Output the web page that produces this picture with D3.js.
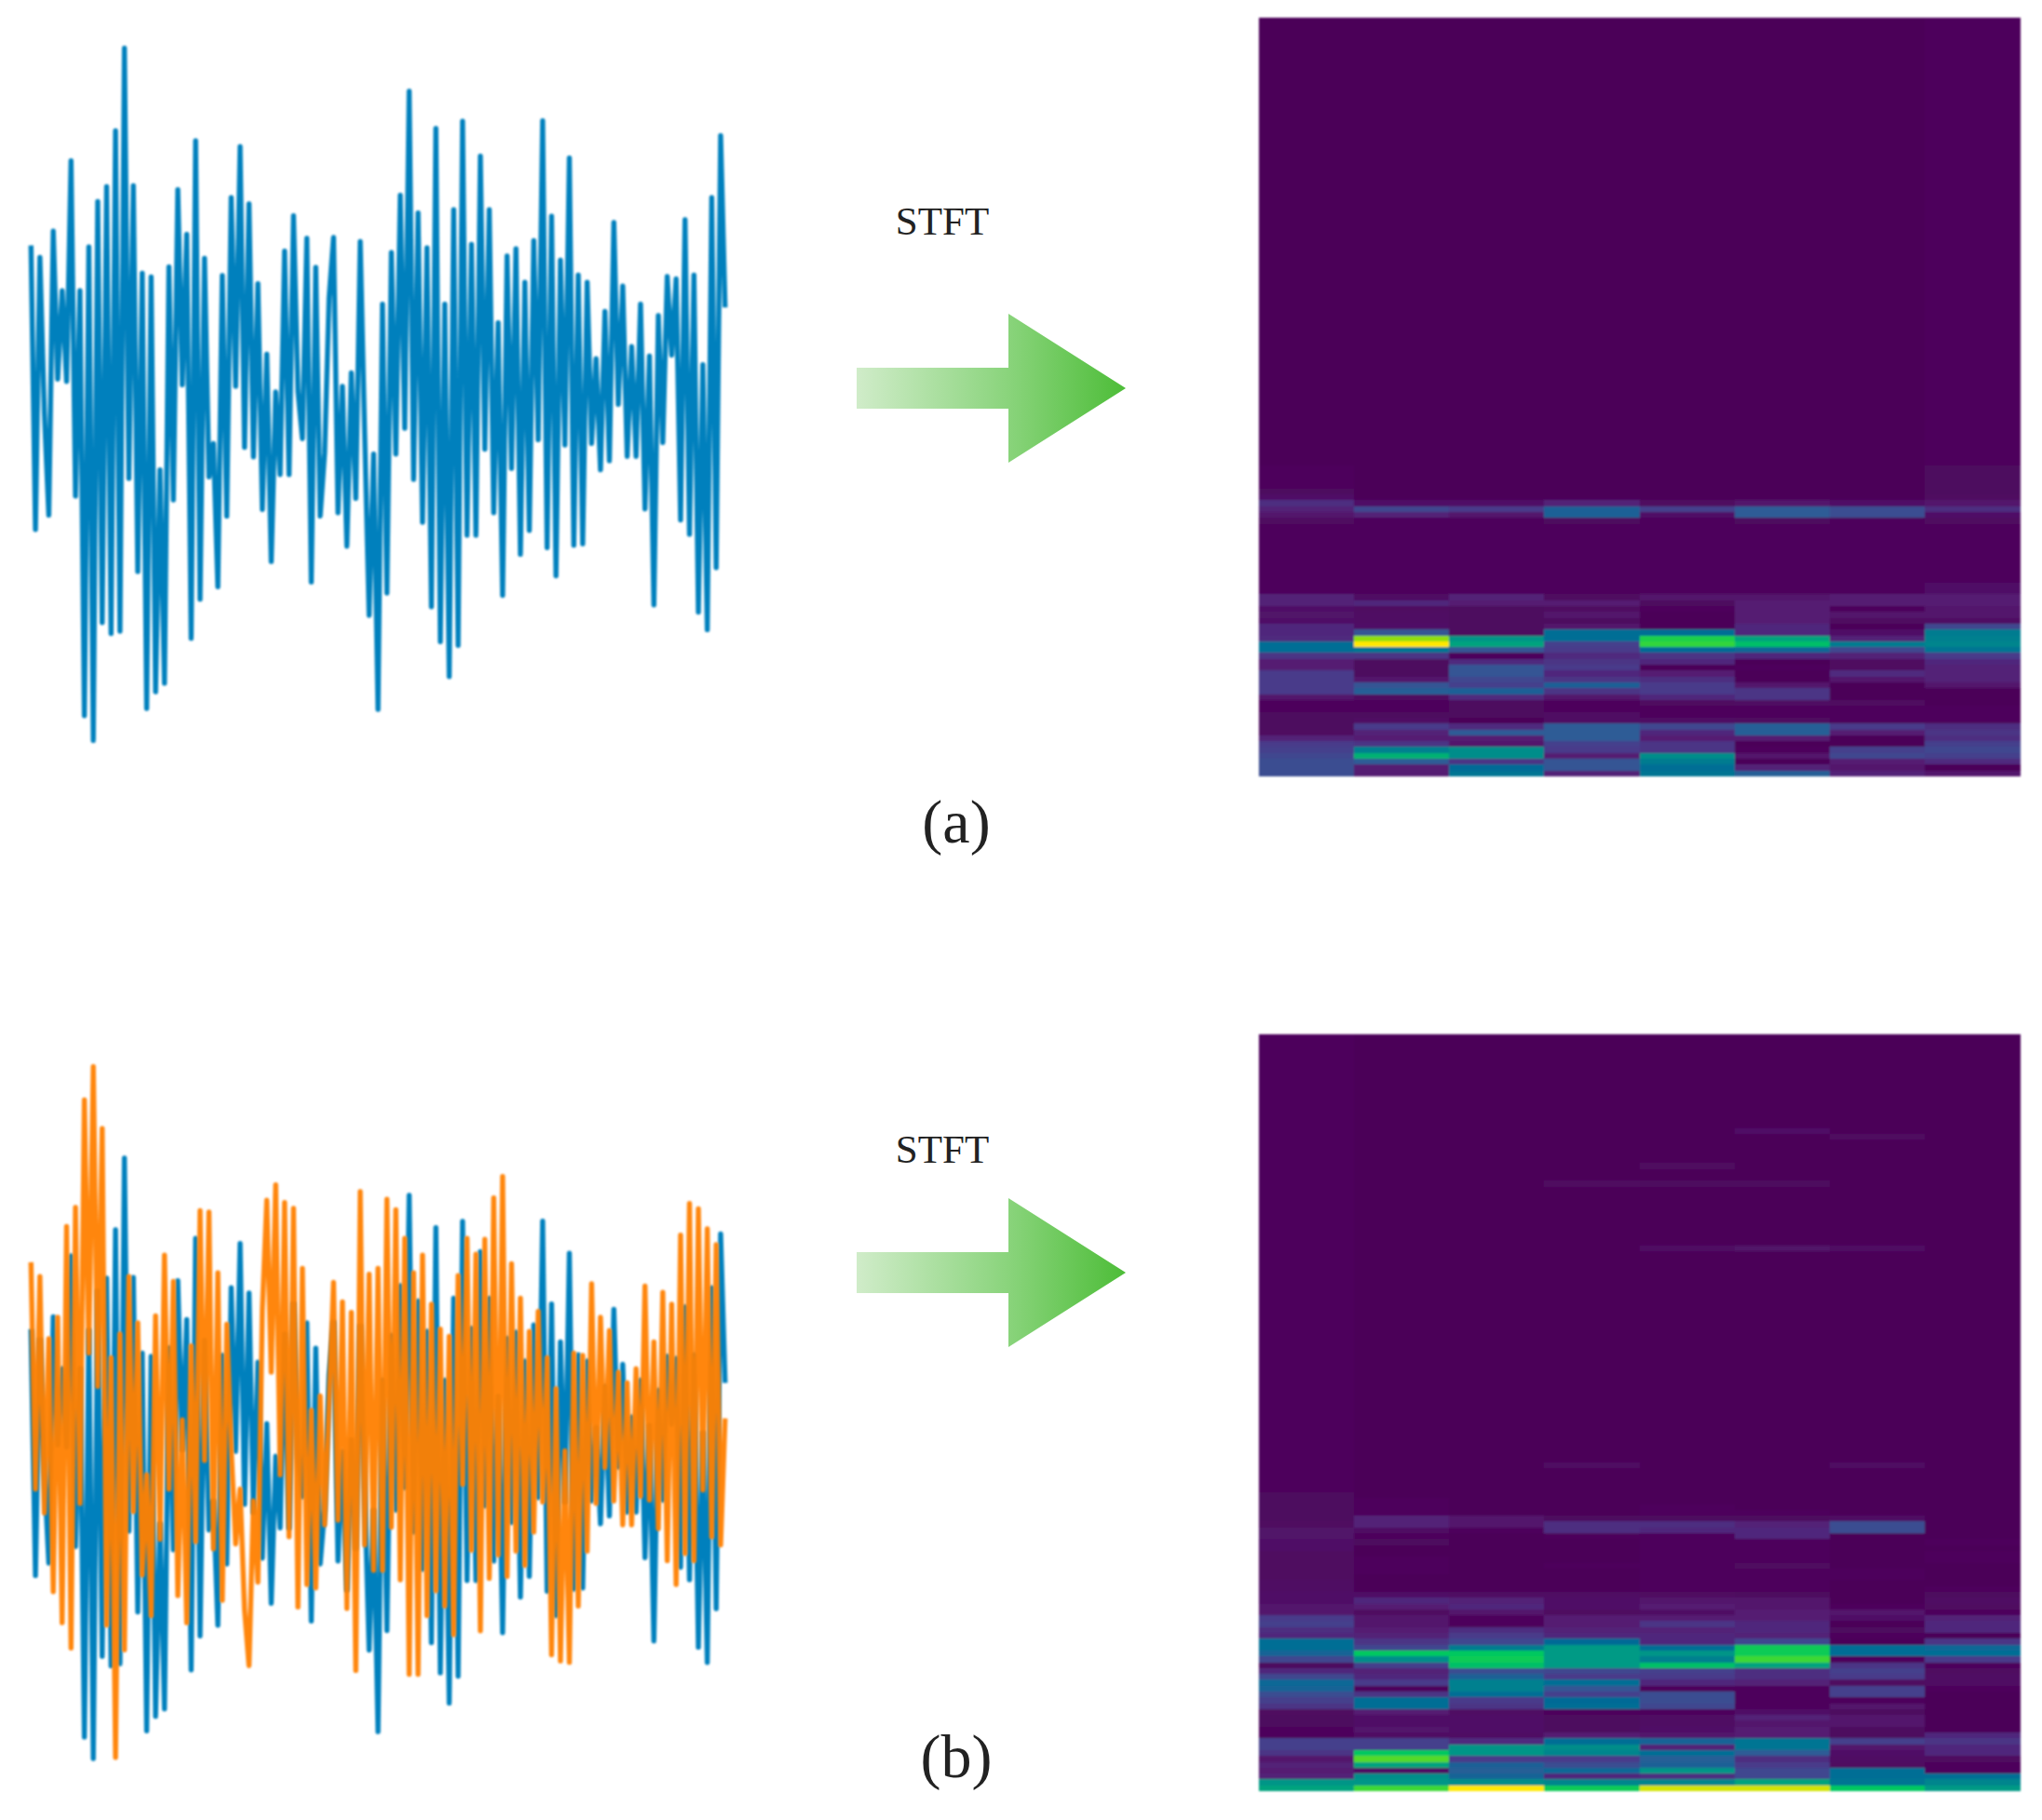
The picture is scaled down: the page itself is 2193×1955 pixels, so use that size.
<!DOCTYPE html>
<html>
<head>
<meta charset="utf-8">
<script src="https://cdn.jsdelivr.net/npm/d3@7"></script>
<style>
  html, body { margin: 0; padding: 0; background: #fff; }
  svg { display: block; }
</style>
</head>
<body>
<div id="chart"></div>
<script>
// time signals, one value per sample (arbitrary amplitude)
const blueSignal = [
  285,-310,260,-65,-280,315,5,190,0,462,
  -240,190,-700,282,-752,377,-505,408,-528,525,
  -523,698,-203,410,-398,227,-685,219,-650,-185,
  -632,240,-248,402,-7,308,-538,504,-456,258,
  -200,-130,-430,222,-282,385,-10,492,-138,372,
  -158,205,-268,57,-377,-22,-195,273,-195,347,
  -20,-120,300,-420,239,-282,-150,175,302,-275,
  -10,-345,18,-245,293,-110,-490,
  -152,-687,162,-443,270,-152,390,-98,608,-205,
  353,-295,280,-472,530,-545,162,-618,360,-553,
  545,-322,287,-322,472,-142,360,-275,123,-448,
  263,-182,278,-362,208,-312,295,-122,546,-348,
  346,-407,254,-133,468,-343,223,-340,208,-130,
  48,-185,147,-166,333,-48,200,-157,73,-157,
  162,-267,53,-468,138,-128,220,55,215,-290,
  339,-320,223,-483,35,-520,385,-390,515,155
];
const orangeSignal = [
  300,-175,270,-225,140,-390,185,-455,375,-508,
  415,-205,640,110,710,40,580,-460,100,-737,
  150,-512,270,-222,173,-355,-145,-440,188,-280,
  315,-175,260,-398,-30,-455,125,-285,408,-115,
  405,-300,278,-408,170,-90,-290,-175,-428,-545,
  -200,-370,200,430,70,462,-145,425,-275,413,
  -422,287,-375,-10,-382,20,-250,10,258,-240,
  217,-425,195,-555,448,-292,275,
  -345,287,-345,432,-255,410,-365,350,-563,278,
  -563,315,-440,212,-388,160,-420,145,-480,272,
  -165,350,-303,317,-472,348,-362,435,-313,480,
  -358,297,-305,225,-335,155,-265,197,-202,100,
  -522,35,-535,-95,-538,110,-420,105,-305,255,
  -205,185,-130,157,-200,70,-250,48,-250,77,
  -190,250,-198,133,-258,237,-325,212,-375,357,
  -310,423,-325,412,-177,370,-275,337,-292,-27
];

// spectrogram (a): one array per time column, lowest frequency bin first, level 0-100
const a0 = [26,26,26,24,22,20,12,4,3,3,3,2,2,8,20,20,20,20,10,10,18,42,42,15,14,14,6,7,6,12,12,2,2,2,2,2,2,2,2,2,2,2,2,4,8,12,16,6,3,2,2,2,2];
const a1 = [10,10,30,65,50,18,10,12,20,5,3,2,2,4,32,28,8,3,3,3,18,45,100,88,28,6,5,5,4,14,5,2,2,2,2,2,2,2,2,2,2,2,2,2,12,24,6,1,1,1,1,1,1];
const a2 = [45,40,18,55,55,8,10,30,15,1,3,3,3,15,34,22,24,28,28,15,2,28,62,58,3,3,3,3,3,10,12,2,2,2,2,2,2,2,2,2,2,2,2,2,8,20,6,1,1,1,1,1,1];
const a3 = [12,28,28,10,20,22,30,30,30,5,5,2,2,8,18,34,18,14,20,18,15,20,22,42,42,8,3,8,4,10,4,2,2,2,2,2,2,2,2,2,2,2,2,3,34,34,12,1,1,1,1,1,1];
const a4 = [45,42,48,55,18,18,10,14,24,5,2,2,4,14,20,20,16,10,1,14,18,40,78,75,42,1,1,1,2,3,8,2,2,2,2,2,2,2,2,2,2,2,2,2,6,22,4,1,1,1,1,1,1];
const a5 = [32,12,1,8,2,1,10,32,32,4,2,2,5,18,18,8,1,1,2,1,14,38,68,62,14,14,10,10,10,10,8,2,2,2,2,2,2,2,2,2,2,2,2,3,30,30,8,1,1,1,1,1,1];
const a6 = [12,8,10,24,22,1,1,10,20,2,2,2,4,1,1,1,8,15,4,4,12,24,48,12,6,1,4,8,2,10,10,2,2,2,2,2,2,2,2,2,2,2,2,2,26,26,6,1,1,1,1,1,1];
const a7 = [8,1,15,22,24,22,16,18,16,2,2,2,1,1,1,8,12,12,12,14,20,45,52,50,48,24,5,8,8,10,10,6,6,2,2,2,2,2,2,2,2,2,2,4,6,16,8,4,3,3,3,3,3];
const restA = [1,1,1,1,1,1,1,2];

// spectrogram (b)
const b0 = [62,58,12,10,12,8,18,22,22,2,2,3,3,4,18,22,26,36,38,24,14,3,24,36,42,42,14,16,22,20,8,8,6,6,5,5,4,4,4,4,4,6,6,7,7,4,3,3,3,3,3];
const b1 = [80,58,55,5,62,82,70,22,22,5,8,6,6,10,42,42,18,2,20,14,12,22,55,70,24,18,12,10,8,8,4,10,14,6,1,1,1,2,2,2,1,1,3,2,5,12,12,2,2,2,1];
const b2 = [100,55,36,32,34,20,58,58,15,5,6,6,6,5,18,20,42,50,50,34,26,68,72,70,48,24,20,16,2,2,8,14,12,5,1,1,1,1,1,1,1,1,1,1,2,8,8,1,1,1,1];
const b3 = [72,52,14,38,26,20,52,55,42,10,3,3,3,2,42,40,22,28,42,20,24,60,60,60,60,40,14,12,10,10,4,6,6,5,1,1,1,1,2,1,1,1,1,2,16,16,3,1,1,1,1];
const b4 = [95,52,16,58,34,32,42,12,36,8,6,5,5,2,24,26,26,2,14,20,22,68,50,58,42,14,14,12,18,10,5,10,8,4,2,2,2,2,2,2,2,2,2,2,14,16,3,2,2,1,1];
const b5 = [95,62,24,24,20,16,30,45,45,10,10,8,12,6,2,2,2,2,12,16,16,62,80,72,72,24,12,14,14,10,10,8,8,3,2,2,2,2,4,2,2,2,2,14,14,12,3,2,1,1,1];
const b6 = [70,45,42,42,4,5,6,8,22,3,3,8,8,3,8,2,22,22,4,20,22,18,2,42,42,1,2,3,1,6,8,2,1,1,1,1,2,2,1,1,1,1,1,1,26,26,5,1,1,1,1];
const b7 = [60,52,42,2,2,4,14,14,18,14,1,1,1,1,1,1,1,2,5,5,4,2,20,42,38,18,1,14,14,12,2,4,5,3,2,1,1,1,1,2,2,1,2,1,1,1,1,1,1,1,1];
const restB = [2,1,1,1,1,1,1,1];

// faint high frequency marks in (b): column, bin, level
const faintCols = [5,6,4,3,4,5,4,5,6,3,6];
const faintRows = [112,111,106,103,103,103,92,92,92,55,55];
const faintVals = [6,4,4,4,3,3,5,7,5,5,5];

const colourLevels = [0,10,20,30,40,50,60,70,80,90,100];
const colourStops = ['#4b0055','#541a72','#4a3a8a','#2f5b96','#006a96','#00808f','#009a85','#00c860','#3dd835','#a5e000','#ffe800'];

const width = 2193;
const height = 1955;
const numBins = 129;
const numCols = 8;

const svg = d3.select('#chart')
  .append('svg')
  .attr('width', width)
  .attr('height', height)
  .attr('viewBox', [0, 0, width, height]);

const defs = svg.append('defs');
defs.append('filter').attr('id', 'soft').attr('x', '-2%').attr('y', '-2%').attr('width', '104%').attr('height', '104%')
  .append('feGaussianBlur').attr('stdDeviation', 0.9);

const arrowFill = defs.append('linearGradient').attr('id', 'arrowFill');
arrowFill.append('stop').attr('offset', '0%').attr('stop-color', '#d0ecc9');
arrowFill.append('stop').attr('offset', '56%').attr('stop-color', '#8ad47c');
arrowFill.append('stop').attr('offset', '100%').attr('stop-color', '#4dbd38');

const colour = d3.scaleLinear().domain(colourLevels).range(colourStops);
const sampleX = d3.scaleLinear().domain([0, blueSignal.length - 1]).range([33.3, 778.7]);

function drawSignal(values, yScale, stroke, opacity) {
  const line = d3.line().x((d, i) => sampleX(i)).y(d => yScale(d));
  svg.append('path')
    .datum(values)
    .attr('d', line)
    .attr('fill', 'none')
    .attr('stroke', stroke)
    .attr('stroke-opacity', opacity)
    .attr('stroke-width', 5.4)
    .attr('stroke-linejoin', 'round')
    .attr('filter', 'url(#soft)');
}

function drawHeatmap(columns, rest, top, bottom) {
  const x = d3.scaleBand().domain(d3.range(numCols)).range([1352, 2169]);
  const y = d3.scaleBand().domain(d3.range(numBins)).range([bottom, top]);
  const cells = [];
  columns.forEach((col, c) => {
    d3.range(numBins).forEach(r => {
      cells.push({c: c, r: r, level: r < col.length ? col[r] : rest[c]});
    });
  });
  const g = svg.append('g').attr('filter', 'url(#soft)').attr('shape-rendering', 'crispEdges');
  g.selectAll('rect')
    .data(cells)
    .join('rect')
    .attr('x', d => x(d.c))
    .attr('y', d => y(d.r))
    .attr('width', x.bandwidth() + 1)
    .attr('height', y.bandwidth() + 1)
    .attr('fill', d => colour(d.level));
  return {g: g, x: x, y: y};
}

function drawArrow(dy) {
  const points = [[920,395],[1083,395],[1083,337],[1209,417],[1083,497],[1083,439],[920,439]];
  svg.append('polygon')
    .attr('points', points.map(p => [p[0], p[1] + dy].join(',')).join(' '))
    .attr('fill', 'url(#arrowFill)');
}

function drawText(str, x, y, size) {
  svg.append('text')
    .attr('x', x)
    .attr('y', y)
    .attr('text-anchor', 'middle')
    .attr('font-family', '"Liberation Serif", serif')
    .attr('font-size', size)
    .attr('fill', '#222')
    .text(str);
}

// panel (a)
const yA = d3.scaleLinear().domain([-760, 760]).range([799.5, 20]);
drawSignal(blueSignal, yA, '#0080bd', 1);
drawHeatmap([a0,a1,a2,a3,a4,a5,a6,a7], restA, 19, 833);
drawArrow(0);
drawText('STFT', 1012, 252, 43);
drawText('(a)', 1027, 905, 66);

// panel (b)
const yBlue = d3.scaleLinear().domain([-752, 698]).range([1889, 1244]);
const yOrange = d3.scaleLinear().domain([-760, 760]).range([1899.5, 1120]);
drawSignal(blueSignal, yBlue, '#0080bd', 1);
drawSignal(orangeSignal, yOrange, '#ff7f00', 0.95);
const heatB = drawHeatmap([b0,b1,b2,b3,b4,b5,b6,b7], restB, 1111, 1923);
heatB.g.selectAll('rect.faint')
  .data(faintCols.map((c, i) => ({c: c, r: faintRows[i], level: faintVals[i]})))
  .join('rect')
  .attr('class', 'faint')
  .attr('x', d => heatB.x(d.c))
  .attr('y', d => heatB.y(d.r))
  .attr('width', heatB.x.bandwidth())
  .attr('height', heatB.y.bandwidth())
  .attr('fill', d => colour(d.level));
drawArrow(950);
drawText('STFT', 1012, 1249, 43);
drawText('(b)', 1027, 1909, 66);
</script>
</body>
</html>
